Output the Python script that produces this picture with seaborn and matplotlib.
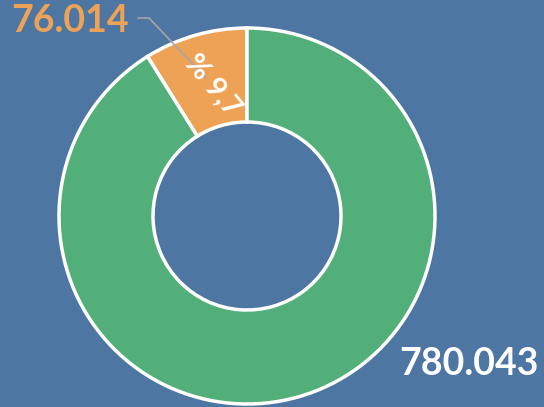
import matplotlib
matplotlib.use("Agg")
import matplotlib.pyplot as plt
import seaborn as sns

# data
labels = ["76.014", "780.043"]
values = [76014, 780043]
pct_label = "% 9,7"
colors = ["#EEA256", "#53AF7A"]
bg = "#4E76A3"

sns.set_theme(style="white")
plt.rcParams['font.family'] = ['Lato', 'DejaVu Sans']

fig = plt.figure(figsize=(5.44, 4.07), dpi=100, facecolor=bg)
ax = fig.add_axes([0, 0, 1, 1])
ax.set_facecolor(bg)

cx, cy, r = 247, 407 - 216, 188
ax.pie(values, colors=colors, startangle=90, counterclock=True,
       center=(cx, cy), radius=r, frame=True,
       wedgeprops=dict(width=94, edgecolor='white', linewidth=2.5))
ax.set_xlim(0, 544)
ax.set_ylim(0, 407)
ax.set_aspect('equal')
ax.axis('off')

# leader line
ax.plot([138, 149, 206], [407 - 18, 407 - 18, 407 - 78], color='#A6A6A6', lw=1.2)

ax.text(212, 407 - 86, pct_label, color='white', fontsize=21, fontweight='bold',
        rotation=-50, ha='center', va='center', rotation_mode='anchor')
ax.text(70, 407 - 21, labels[0], color=colors[0], fontsize=27, fontweight='bold',
        ha='center', va='center')
ax.text(469, 407 - 364, labels[1], color='white', fontsize=27, fontweight='bold',
        ha='center', va='center')

fig.savefig("out.png", dpi=100, facecolor=bg)
